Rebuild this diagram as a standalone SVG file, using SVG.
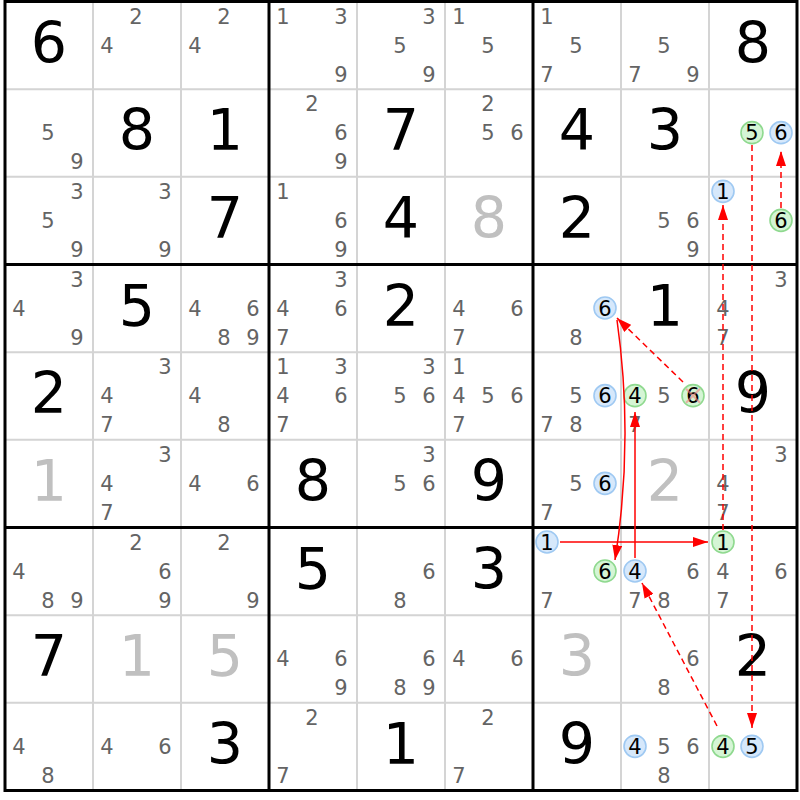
<svg xmlns="http://www.w3.org/2000/svg" width="800" height="800" viewBox="0 0 800 800">
<style>
text{font-family:"DejaVu Sans","Liberation Sans",sans-serif;text-anchor:middle}
.c{font-size:21px;fill:#646464}
.k{font-size:21px;fill:#000}
.g{font-size:57px;fill:#000}
.s{font-size:57px;fill:#c0c0c0}
.b{fill:#d6e8fb;stroke:#9fc9f2;stroke-width:1.6}
.n{fill:#d5f5d5;stroke:#8fd98f;stroke-width:1.6}
.thin{stroke:#d4d4d4;stroke-width:2}
.thick{stroke:#000;stroke-width:3}
.a{fill:none;stroke:#f00;stroke-width:1.5}
.d{stroke-dasharray:6,4}
.x{stroke:#f08080;stroke-opacity:0.6;stroke-width:2}
</style>
<defs>
<marker id="ah" markerUnits="userSpaceOnUse" markerWidth="15" markerHeight="10" viewBox="0 0 15 10" refX="15" refY="5" orient="auto"><path d="M0,0 L15,5 L0,10 z" fill="#f00"/></marker>
</defs>
<rect width="800" height="800" fill="#fff"/>
<g id="grid">
<path class="thin" d="M93,1.5V790.5M181,1.5V790.5M357,1.5V790.5M445,1.5V790.5M621,1.5V790.5M709,1.5V790.5M5,89.17H797M5,176.83H797M5,352.17H797M5,439.83H797M5,615.17H797M5,702.83H797"/>
<path class="thick" d="M5,1.5V790.5M269,1.5V790.5M533,1.5V790.5M797,1.5V790.5M3.5,1.5H798.5M3.5,264.5H798.5M3.5,527.5H798.5M3.5,790.5H798.5"/>
</g>
<!-- row 0 -->
<g id="r0c0" transform="translate(5,1.5)"><text class="g" x="44" y="61.1">6</text></g>
<g id="r0c1" transform="translate(93,1.5)"><text class="c" x="43" y="22">2</text><text class="c" x="14" y="51">4</text></g>
<g id="r0c2" transform="translate(181,1.5)"><text class="c" x="43" y="22">2</text><text class="c" x="14" y="51">4</text></g>
<g id="r0c3" transform="translate(269,1.5)"><text class="c" x="14" y="22">1</text><text class="c" x="72" y="22">3</text><text class="c" x="72" y="80">9</text></g>
<g id="r0c4" transform="translate(357,1.5)"><text class="c" x="72" y="22">3</text><text class="c" x="43" y="51">5</text><text class="c" x="72" y="80">9</text></g>
<g id="r0c5" transform="translate(445,1.5)"><text class="c" x="14" y="22">1</text><text class="c" x="43" y="51">5</text></g>
<g id="r0c6" transform="translate(533,1.5)"><text class="c" x="14" y="22">1</text><text class="c" x="43" y="51">5</text><text class="c" x="14" y="80">7</text></g>
<g id="r0c7" transform="translate(621,1.5)"><text class="c" x="43" y="51">5</text><text class="c" x="14" y="80">7</text><text class="c" x="72" y="80">9</text></g>
<g id="r0c8" transform="translate(709,1.5)"><text class="g" x="44" y="61.1">8</text></g>
<!-- row 1 -->
<g id="r1c0" transform="translate(5,89.17)"><text class="c" x="43" y="51">5</text><text class="c" x="72" y="80">9</text></g>
<g id="r1c1" transform="translate(93,89.17)"><text class="g" x="44" y="61.1">8</text></g>
<g id="r1c2" transform="translate(181,89.17)"><text class="g" x="44" y="61.1">1</text></g>
<g id="r1c3" transform="translate(269,89.17)"><text class="c" x="43" y="22">2</text><text class="c" x="72" y="51">6</text><text class="c" x="72" y="80">9</text></g>
<g id="r1c4" transform="translate(357,89.17)"><text class="g" x="44" y="61.1">7</text></g>
<g id="r1c5" transform="translate(445,89.17)"><text class="c" x="43" y="22">2</text><text class="c" x="43" y="51">5</text><text class="c" x="72" y="51">6</text></g>
<g id="r1c6" transform="translate(533,89.17)"><text class="g" x="44" y="61.1">4</text></g>
<g id="r1c7" transform="translate(621,89.17)"><text class="g" x="44" y="61.1">3</text></g>
<g id="r1c8" transform="translate(709,89.17)"><circle class="n" cx="43" cy="43.5" r="11"/><text class="k" x="43" y="51">5</text><circle class="b" cx="72" cy="43.5" r="11"/><text class="k" x="72" y="51">6</text></g>
<!-- row 2 -->
<g id="r2c0" transform="translate(5,176.83)"><text class="c" x="72" y="22">3</text><text class="c" x="43" y="51">5</text><text class="c" x="72" y="80">9</text></g>
<g id="r2c1" transform="translate(93,176.83)"><text class="c" x="72" y="22">3</text><text class="c" x="72" y="80">9</text></g>
<g id="r2c2" transform="translate(181,176.83)"><text class="g" x="44" y="61.1">7</text></g>
<g id="r2c3" transform="translate(269,176.83)"><text class="c" x="14" y="22">1</text><text class="c" x="72" y="51">6</text><text class="c" x="72" y="80">9</text></g>
<g id="r2c4" transform="translate(357,176.83)"><text class="g" x="44" y="61.1">4</text></g>
<g id="r2c5" transform="translate(445,176.83)"><text class="s" x="44" y="61.1">8</text></g>
<g id="r2c6" transform="translate(533,176.83)"><text class="g" x="44" y="61.1">2</text></g>
<g id="r2c7" transform="translate(621,176.83)"><text class="c" x="43" y="51">5</text><text class="c" x="72" y="51">6</text><text class="c" x="72" y="80">9</text></g>
<g id="r2c8" transform="translate(709,176.83)"><circle class="b" cx="14" cy="14.5" r="11"/><text class="k" x="14" y="22">1</text><circle class="n" cx="72" cy="43.5" r="11"/><text class="k" x="72" y="51">6</text></g>
<!-- row 3 -->
<g id="r3c0" transform="translate(5,264.5)"><text class="c" x="72" y="22">3</text><text class="c" x="14" y="51">4</text><text class="c" x="72" y="80">9</text></g>
<g id="r3c1" transform="translate(93,264.5)"><text class="g" x="44" y="61.1">5</text></g>
<g id="r3c2" transform="translate(181,264.5)"><text class="c" x="14" y="51">4</text><text class="c" x="72" y="51">6</text><text class="c" x="43" y="80">8</text><text class="c" x="72" y="80">9</text></g>
<g id="r3c3" transform="translate(269,264.5)"><text class="c" x="72" y="22">3</text><text class="c" x="14" y="51">4</text><text class="c" x="72" y="51">6</text><text class="c" x="14" y="80">7</text></g>
<g id="r3c4" transform="translate(357,264.5)"><text class="g" x="44" y="61.1">2</text></g>
<g id="r3c5" transform="translate(445,264.5)"><text class="c" x="14" y="51">4</text><text class="c" x="72" y="51">6</text><text class="c" x="14" y="80">7</text></g>
<g id="r3c6" transform="translate(533,264.5)"><circle class="b" cx="72" cy="43.5" r="11"/><text class="k" x="72" y="51">6</text><text class="c" x="43" y="80">8</text></g>
<g id="r3c7" transform="translate(621,264.5)"><text class="g" x="44" y="61.1">1</text></g>
<g id="r3c8" transform="translate(709,264.5)"><text class="c" x="72" y="22">3</text><text class="c" x="14" y="51">4</text><text class="c" x="14" y="80">7</text></g>
<!-- row 4 -->
<g id="r4c0" transform="translate(5,352.17)"><text class="g" x="44" y="61.1">2</text></g>
<g id="r4c1" transform="translate(93,352.17)"><text class="c" x="72" y="22">3</text><text class="c" x="14" y="51">4</text><text class="c" x="14" y="80">7</text></g>
<g id="r4c2" transform="translate(181,352.17)"><text class="c" x="14" y="51">4</text><text class="c" x="43" y="80">8</text></g>
<g id="r4c3" transform="translate(269,352.17)"><text class="c" x="14" y="22">1</text><text class="c" x="72" y="22">3</text><text class="c" x="14" y="51">4</text><text class="c" x="72" y="51">6</text><text class="c" x="14" y="80">7</text></g>
<g id="r4c4" transform="translate(357,352.17)"><text class="c" x="72" y="22">3</text><text class="c" x="43" y="51">5</text><text class="c" x="72" y="51">6</text></g>
<g id="r4c5" transform="translate(445,352.17)"><text class="c" x="14" y="22">1</text><text class="c" x="14" y="51">4</text><text class="c" x="43" y="51">5</text><text class="c" x="72" y="51">6</text><text class="c" x="14" y="80">7</text></g>
<g id="r4c6" transform="translate(533,352.17)"><text class="c" x="43" y="51">5</text><circle class="b" cx="72" cy="43.5" r="11"/><text class="k" x="72" y="51">6</text><text class="c" x="14" y="80">7</text><text class="c" x="43" y="80">8</text></g>
<g id="r4c7" transform="translate(621,352.17)"><circle class="n" cx="14" cy="43.5" r="11"/><text class="k" x="14" y="51">4</text><text class="c" x="43" y="51">5</text><circle class="n" cx="72" cy="43.5" r="11"/><text class="k" x="72" y="51">6</text><path class="x" d="M65,36.5L79,50.5M79,36.5L65,50.5"/><text class="c" x="14" y="80">7</text></g>
<g id="r4c8" transform="translate(709,352.17)"><text class="g" x="44" y="61.1">9</text></g>
<!-- row 5 -->
<g id="r5c0" transform="translate(5,439.83)"><text class="s" x="44" y="61.1">1</text></g>
<g id="r5c1" transform="translate(93,439.83)"><text class="c" x="72" y="22">3</text><text class="c" x="14" y="51">4</text><text class="c" x="14" y="80">7</text></g>
<g id="r5c2" transform="translate(181,439.83)"><text class="c" x="14" y="51">4</text><text class="c" x="72" y="51">6</text></g>
<g id="r5c3" transform="translate(269,439.83)"><text class="g" x="44" y="61.1">8</text></g>
<g id="r5c4" transform="translate(357,439.83)"><text class="c" x="72" y="22">3</text><text class="c" x="43" y="51">5</text><text class="c" x="72" y="51">6</text></g>
<g id="r5c5" transform="translate(445,439.83)"><text class="g" x="44" y="61.1">9</text></g>
<g id="r5c6" transform="translate(533,439.83)"><text class="c" x="43" y="51">5</text><circle class="b" cx="72" cy="43.5" r="11"/><text class="k" x="72" y="51">6</text><text class="c" x="14" y="80">7</text></g>
<g id="r5c7" transform="translate(621,439.83)"><text class="s" x="44" y="61.1">2</text></g>
<g id="r5c8" transform="translate(709,439.83)"><text class="c" x="72" y="22">3</text><text class="c" x="14" y="51">4</text><text class="c" x="14" y="80">7</text></g>
<!-- row 6 -->
<g id="r6c0" transform="translate(5,527.5)"><text class="c" x="14" y="51">4</text><text class="c" x="43" y="80">8</text><text class="c" x="72" y="80">9</text></g>
<g id="r6c1" transform="translate(93,527.5)"><text class="c" x="43" y="22">2</text><text class="c" x="72" y="51">6</text><text class="c" x="72" y="80">9</text></g>
<g id="r6c2" transform="translate(181,527.5)"><text class="c" x="43" y="22">2</text><text class="c" x="72" y="80">9</text></g>
<g id="r6c3" transform="translate(269,527.5)"><text class="g" x="44" y="61.1">5</text></g>
<g id="r6c4" transform="translate(357,527.5)"><text class="c" x="72" y="51">6</text><text class="c" x="43" y="80">8</text></g>
<g id="r6c5" transform="translate(445,527.5)"><text class="g" x="44" y="61.1">3</text></g>
<g id="r6c6" transform="translate(533,527.5)"><circle class="b" cx="14" cy="14.5" r="11"/><text class="k" x="14" y="22">1</text><circle class="n" cx="72" cy="43.5" r="11"/><text class="k" x="72" y="51">6</text><text class="c" x="14" y="80">7</text></g>
<g id="r6c7" transform="translate(621,527.5)"><circle class="b" cx="14" cy="43.5" r="11"/><text class="k" x="14" y="51">4</text><text class="c" x="72" y="51">6</text><text class="c" x="14" y="80">7</text><text class="c" x="43" y="80">8</text></g>
<g id="r6c8" transform="translate(709,527.5)"><circle class="n" cx="14" cy="14.5" r="11"/><text class="k" x="14" y="22">1</text><text class="c" x="14" y="51">4</text><text class="c" x="72" y="51">6</text><text class="c" x="14" y="80">7</text></g>
<!-- row 7 -->
<g id="r7c0" transform="translate(5,615.17)"><text class="g" x="44" y="61.1">7</text></g>
<g id="r7c1" transform="translate(93,615.17)"><text class="s" x="44" y="61.1">1</text></g>
<g id="r7c2" transform="translate(181,615.17)"><text class="s" x="44" y="61.1">5</text></g>
<g id="r7c3" transform="translate(269,615.17)"><text class="c" x="14" y="51">4</text><text class="c" x="72" y="51">6</text><text class="c" x="72" y="80">9</text></g>
<g id="r7c4" transform="translate(357,615.17)"><text class="c" x="72" y="51">6</text><text class="c" x="43" y="80">8</text><text class="c" x="72" y="80">9</text></g>
<g id="r7c5" transform="translate(445,615.17)"><text class="c" x="14" y="51">4</text><text class="c" x="72" y="51">6</text></g>
<g id="r7c6" transform="translate(533,615.17)"><text class="s" x="44" y="61.1">3</text></g>
<g id="r7c7" transform="translate(621,615.17)"><text class="c" x="72" y="51">6</text><text class="c" x="43" y="80">8</text></g>
<g id="r7c8" transform="translate(709,615.17)"><text class="g" x="44" y="61.1">2</text></g>
<!-- row 8 -->
<g id="r8c0" transform="translate(5,702.83)"><text class="c" x="14" y="51">4</text><text class="c" x="43" y="80">8</text></g>
<g id="r8c1" transform="translate(93,702.83)"><text class="c" x="14" y="51">4</text><text class="c" x="72" y="51">6</text></g>
<g id="r8c2" transform="translate(181,702.83)"><text class="g" x="44" y="61.1">3</text></g>
<g id="r8c3" transform="translate(269,702.83)"><text class="c" x="43" y="22">2</text><text class="c" x="14" y="80">7</text></g>
<g id="r8c4" transform="translate(357,702.83)"><text class="g" x="44" y="61.1">1</text></g>
<g id="r8c5" transform="translate(445,702.83)"><text class="c" x="43" y="22">2</text><text class="c" x="14" y="80">7</text></g>
<g id="r8c6" transform="translate(533,702.83)"><text class="g" x="44" y="61.1">9</text></g>
<g id="r8c7" transform="translate(621,702.83)"><circle class="b" cx="14" cy="43.5" r="11"/><text class="k" x="14" y="51">4</text><text class="c" x="43" y="51">5</text><text class="c" x="72" y="51">6</text><text class="c" x="43" y="80">8</text></g>
<g id="r8c8" transform="translate(709,702.83)"><circle class="n" cx="14" cy="43.5" r="11"/><text class="k" x="14" y="51">4</text><circle class="b" cx="43" cy="43.5" r="11"/><text class="k" x="43" y="51">5</text></g>
<g id="connectors">
<path class="a d" d="M781,208L781,151" marker-end="url(#ah)"/>
<path class="a d" d="M752,145L752,728" marker-end="url(#ah)"/>
<path class="a d" d="M723,530L723,205" marker-end="url(#ah)"/>
<path class="a" d="M560,542L708,542" marker-end="url(#ah)"/>
<path class="a" d="M617,320Q634,440 615,560" marker-end="url(#ah)"/>
<path class="a" d="M635,558L635,412" marker-end="url(#ah)"/>
<path class="a d" d="M717,726L642,583" marker-end="url(#ah)"/>
<path class="a d" d="M683,382L617,318" marker-end="url(#ah)"/>
</g>
</svg>
